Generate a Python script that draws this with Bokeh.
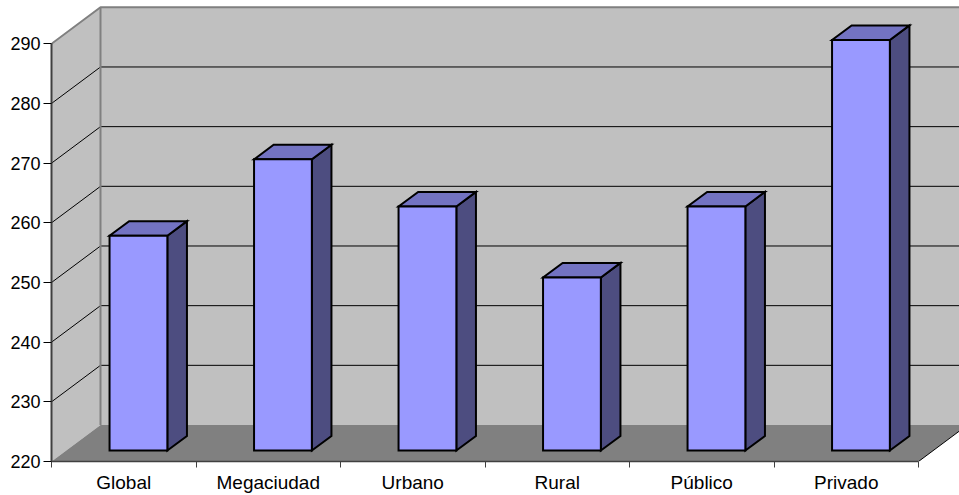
from bokeh.plotting import figure
from bokeh.models import Range1d, FixedTicker, CustomJSTickFormatter
from bokeh.embed import file_html
from bokeh.resources import INLINE

# ---- data ----
categories = ["Global", "Megaciudad", "Urbano", "Rural", "Público", "Privado"]
values = [256, 268.8, 260.9, 249, 260.9, 288.8]
y_ticks = [220, 230, 240, 250, 260, 270, 280, 290]

# ---- geometry (data units) ----
BASE = 220.0
TOP = 290.0
N = len(categories)
X_END = (959 - 51) / 144.5
Y_END = 220 + 461 / 5.967
DX = 49 / 144.5      # depth offset in x (category units)
DY = 36.5 / 5.967    # depth offset in y (value units)
D0, D1 = 0.3, 0.7    # bar depth (front/back)
W0, W1 = 0.3, 0.7    # bar extent within category

FONT = "Liberation Sans"

p = figure(width=959, height=495, output_backend="svg", toolbar_location=None,
           x_range=Range1d(0, X_END), y_range=Range1d(BASE, Y_END),
           min_border_left=51, min_border_bottom=34, min_border_top=0, min_border_right=0)
p.outline_line_color = None
p.grid.visible = False
p.background_fill_color = "white"
p.border_fill_color = "white"

# back wall
p.patch([DX, X_END + 1, X_END + 1, DX], [BASE + DY, BASE + DY, TOP + DY, TOP + DY],
        fill_color="#C0C0C0", line_color=None)
# side wall
p.patch([0, DX, DX, 0], [BASE, BASE + DY, TOP + DY, TOP],
        fill_color="#C0C0C0", line_color=None)

# gridlines (back wall + side wall)
gx, gy = [], []
for t in y_ticks[1:-1]:
    gx.append([0, DX, X_END + 1])
    gy.append([t, t + DY, t + DY])
p.multi_line(gx, gy, line_color="black", line_width=1)

# floor
p.patch([0, N, N + DX, DX], [BASE, BASE, BASE + DY, BASE + DY],
        fill_color="#808080", line_color=None)
p.line([N, N + DX], [BASE, BASE + DY], line_color="black", line_width=1)

# wall edges
p.line([DX, DX], [BASE + DY, TOP + DY], line_color="#808080", line_width=2)
p.line([0, DX, X_END + 1], [TOP, TOP + DY, TOP + DY], line_color="#808080", line_width=2)

# bars
fxs, fys, txs, tys, sxs, sys_ = [], [], [], [], [], []
for i, v in enumerate(values):
    x0 = i + W0
    x1 = i + W1
    fxs.append([x0 + D0 * DX, x1 + D0 * DX, x1 + D0 * DX, x0 + D0 * DX])
    fys.append([BASE + D0 * DY, BASE + D0 * DY, v + D0 * DY, v + D0 * DY])
    txs.append([x0 + D0 * DX, x1 + D0 * DX, x1 + D1 * DX, x0 + D1 * DX])
    tys.append([v + D0 * DY, v + D0 * DY, v + D1 * DY, v + D1 * DY])
    sxs.append([x1 + D0 * DX, x1 + D1 * DX, x1 + D1 * DX, x1 + D0 * DX])
    sys_.append([BASE + D0 * DY, BASE + D1 * DY, v + D1 * DY, v + D0 * DY])

p.patches(sxs, sys_, fill_color="#4D4D80", line_color="black", line_width=2, line_join="miter")
p.patches(txs, tys, fill_color="#7373C2", line_color="black", line_width=2, line_join="miter")
p.patches(fxs, fys, fill_color="#9999FF", line_color="black", line_width=2, line_join="miter")

# y axis
ya = p.yaxis[0]
ya.ticker = FixedTicker(ticks=y_ticks)
ya.bounds = (BASE, TOP)
ya.axis_line_color = "#404040"
ya.axis_line_width = 2
ya.major_tick_line_color = "black"
ya.major_tick_out = 8
ya.major_tick_in = 0
ya.minor_tick_line_color = None
ya.major_label_standoff = 3
ya.major_label_text_font = FONT
ya.major_label_text_font_size = "18px"
ya.major_label_text_color = "black"

# x axis
xa = p.xaxis[0]
xa.ticker = FixedTicker(ticks=[i + 0.5 for i in range(N)], minor_ticks=list(range(N + 1)))
xa.bounds = (0, N)
xa.formatter = CustomJSTickFormatter(args=dict(labels=categories),
                                     code="const k = Math.round(tick - 0.5); return labels[k] ?? '';")
xa.axis_line_color = "#404040"
xa.axis_line_width = 1.5
xa.major_tick_line_color = None
xa.major_tick_out = 6
xa.major_tick_in = 0
xa.minor_tick_line_color = "#404040"
xa.minor_tick_out = 6
xa.minor_tick_in = 0
xa.major_label_standoff = 4
xa.major_label_text_font = FONT
xa.major_label_text_font_size = "19px"
xa.major_label_text_color = "black"

open("out.html", "w").write(file_html(p, INLINE))
